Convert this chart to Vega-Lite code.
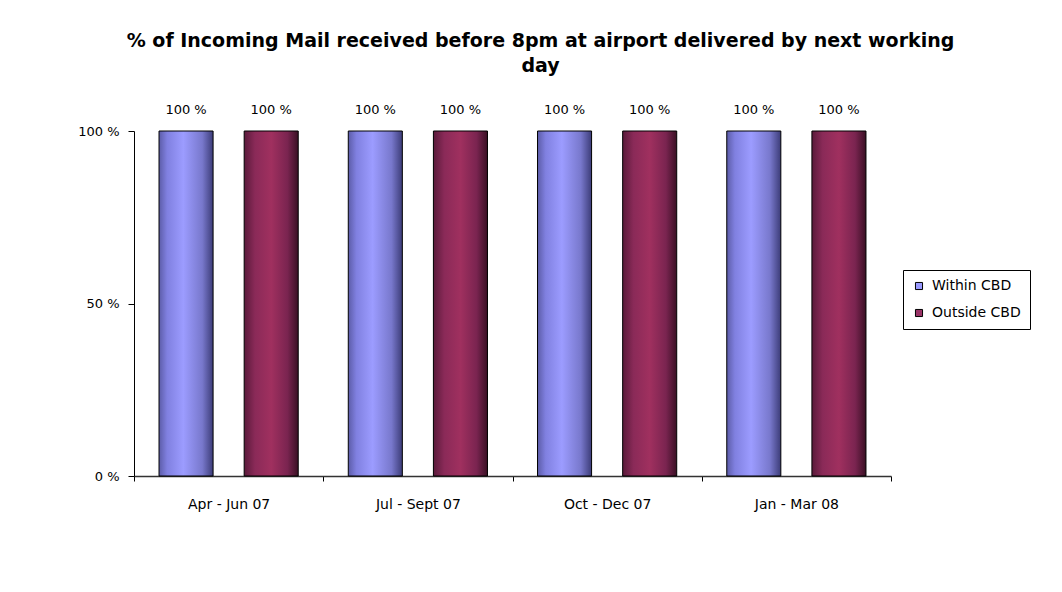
{
  "$schema": "https://vega.github.io/schema/vega-lite/v6.json",
  "autosize": {"type": "none"},
  "padding": {"left": 134, "top": 131, "right": 171, "bottom": 116},
  "width": 757,
  "height": 345,
  "background": "white",
  "config": {"view": {"stroke": null}},
  "title": {
    "text": ["% of Incoming Mail received before 8pm at airport delivered by next working", "day"],
    "font": "DejaVu Sans",
    "fontSize": 19,
    "fontWeight": "bold",
    "color": "black",
    "lineHeight": 25,
    "anchor": "middle",
    "frame": "group",
    "dx": 28,
    "offset": 28
  },
  "data": {
    "values": [
      {"quarter": "Apr - Jun 07", "series": "Within CBD", "value": 1.0, "label": "100 %"},
      {"quarter": "Apr - Jun 07", "series": "Outside CBD", "value": 1.0, "label": "100 %"},
      {"quarter": "Jul - Sept 07", "series": "Within CBD", "value": 1.0, "label": "100 %"},
      {"quarter": "Jul - Sept 07", "series": "Outside CBD", "value": 1.0, "label": "100 %"},
      {"quarter": "Oct - Dec 07", "series": "Within CBD", "value": 1.0, "label": "100 %"},
      {"quarter": "Oct - Dec 07", "series": "Outside CBD", "value": 1.0, "label": "100 %"},
      {"quarter": "Jan - Mar 08", "series": "Within CBD", "value": 1.0, "label": "100 %"},
      {"quarter": "Jan - Mar 08", "series": "Outside CBD", "value": 1.0, "label": "100 %"}
    ]
  },
  "encoding": {
    "x": {
      "field": "quarter",
      "type": "nominal",
      "sort": null,
      "scale": {"paddingInner": 0, "paddingOuter": 0},
      "axis": {
        "title": null,
        "labelAngle": 0,
        "labelFont": "DejaVu Sans",
        "labelFontSize": 14,
        "labelColor": "black",
        "labelPadding": 16,
        "tickBand": "extent",
        "tickSize": 5,
        "tickColor": "black",
        "domainColor": "#333333",
        "domainWidth": 1.5
      }
    },
    "xOffset": {
      "field": "series",
      "type": "nominal",
      "sort": ["Within CBD", "Outside CBD"],
      "scale": {"paddingInner": 0.365, "paddingOuter": 0.294}
    },
    "y": {
      "field": "value",
      "type": "quantitative",
      "scale": {"domain": [0, 1]},
      "axis": {
        "title": null,
        "values": [0, 0.5, 1],
        "labelExpr": "round(datum.value * 100) + ' %'",
        "labelFont": "DejaVu Sans",
        "labelFontSize": 13,
        "labelColor": "black",
        "labelPadding": 9,
        "tickSize": 6,
        "tickColor": "black",
        "domainColor": "black",
        "grid": false
      }
    }
  },
  "layer": [
    {
      "mark": {"type": "square", "opacity": 0, "size": 1},
      "encoding": {
        "color": {
          "field": "series",
          "type": "nominal",
          "sort": ["Within CBD", "Outside CBD"],
          "scale": {"domain": ["Within CBD", "Outside CBD"], "range": ["#9999FF", "#993366"]},
          "legend": {
            "title": null,
            "orient": "none",
            "legendX": 769,
            "legendY": 139,
            "strokeColor": "black",
            "fillColor": "white",
            "padding": 9,
            "labelFont": "DejaVu Sans",
            "labelFontSize": 14,
            "labelColor": "black",
            "symbolType": "square",
            "symbolSize": 50,
            "symbolStrokeColor": "black",
            "symbolStrokeWidth": 1,
            "symbolOpacity": 1,
            "rowPadding": 13,
            "labelOffset": 6
          }
        }
      }
    },
    {
      "mark": {"type": "bar", "stroke": "black", "strokeWidth": 1},
      "encoding": {
        "fill": {
          "condition": {
            "test": "datum.series === 'Within CBD'",
            "value": {
              "gradient": "linear", "x1": 0, "x2": 1, "y1": 0, "y2": 0,
              "stops": [
                {"offset": 0, "color": "#5c5ca8"},
                {"offset": 0.15, "color": "#8080e0"},
                {"offset": 0.45, "color": "#9c9cff"},
                {"offset": 0.8, "color": "#7878cc"},
                {"offset": 1, "color": "#3c3c78"}
              ]
            }
          },
          "value": {
            "gradient": "linear", "x1": 0, "x2": 1, "y1": 0, "y2": 0,
            "stops": [
              {"offset": 0, "color": "#5a1a3a"},
              {"offset": 0.2, "color": "#8a2a58"},
              {"offset": 0.5, "color": "#a0305f"},
              {"offset": 0.8, "color": "#7a2450"},
              {"offset": 1, "color": "#3a1024"}
            ]
          }
        }
      }
    },
    {
      "mark": {"type": "text", "baseline": "middle", "dy": -21, "font": "DejaVu Sans", "fontSize": 13, "color": "black"},
      "encoding": {
        "text": {"field": "label", "type": "nominal"}
      }
    }
  ]
}
